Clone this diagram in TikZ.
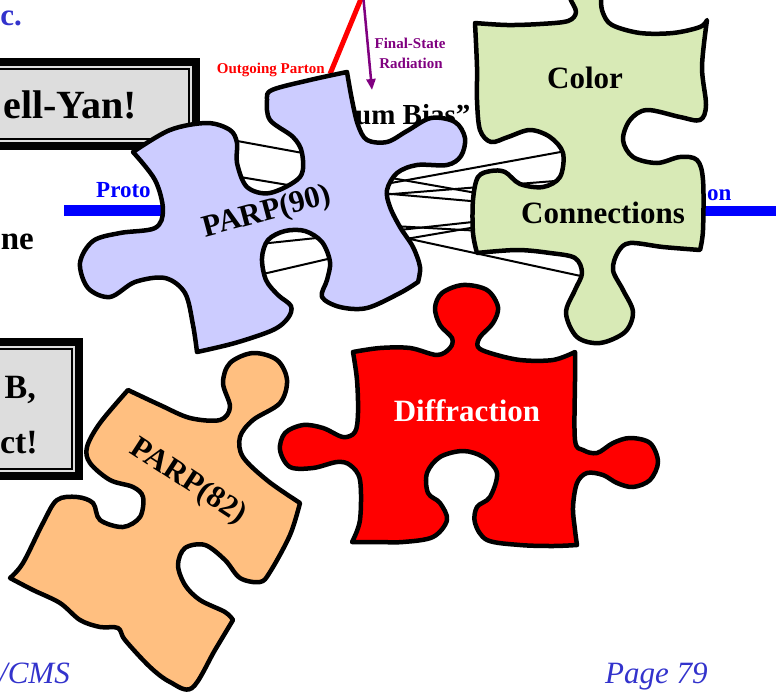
\documentclass[tikz,border=0pt]{standalone}
\usepackage{fontspec}
\setmainfont{Liberation Serif}
\usetikzlibrary{arrows.meta}
\definecolor{slideblue}{RGB}{51,51,204}
\definecolor{beamblue}{RGB}{0,0,255}
\definecolor{fsrpurple}{RGB}{128,0,128}
\definecolor{boxgray}{RGB}{221,221,221}
\definecolor{pcpurple}{RGB}{204,204,255}
\definecolor{pcgreen}{RGB}{216,234,182}
\definecolor{pcred}{RGB}{255,0,0}
\definecolor{pcorange}{RGB}{255,191,128}
\newcommand{\fs}[1]{\fontsize{#1}{1.2\dimexpr#1pt\relax}\selectfont}
\tikzset{
  piece/.style={draw=black, line width=4.5pt, line join=round},
  pclabel/.style={font=\bfseries\fs{31}, inner sep=0pt},
  slidetext/.style={font=\bfseries\fs{33}, inner sep=0pt},
  string/.style={draw=black, line width=2pt},
  smallbold/.style={font=\bfseries\fs{15}, inner sep=0pt, align=center},
  footer/.style={font=\itshape\fs{31}, text=slideblue, inner sep=0pt},
}
\begin{document}
\begin{tikzpicture}[x=1pt,y=-1pt]
\useasboundingbox (0,0) rectangle (776,691);

% ---------- slide background: title fragment, boxes, beams ----------
\node[font=\bfseries\fs{31}, text=slideblue, anchor=base east, inner sep=0pt] (title) at (22,25) {c.};

% framed statement boxes
\fill[black] (-10,58) rectangle (200,150);
\fill[boxgray] (-10,66) rectangle (192,142);
\draw[line width=1.3pt, fill=boxgray] (-10,69) rectangle (189,139);
\node[slidetext, font=\bfseries\fs{40}, anchor=base east] (dy) at (137,118) {ell-Yan!};

\node[slidetext, font=\bfseries\fs{33}, anchor=base east] (ne) at (34,249) {ne};

\fill[black] (-10,338) rectangle (83,480);
\fill[boxgray] (-10,346) rectangle (75,472);
\draw[line width=1.3pt, fill=boxgray] (-10,349) rectangle (72,469);
\node[slidetext, font=\bfseries\fs{34}, anchor=base east] (b1) at (36,398) {B,};
\node[slidetext, font=\bfseries\fs{34}, anchor=base east] (b2) at (38,453) {ct!};

% beam lines
\coordinate (beamL1) at (64,210);
\coordinate (beamL2) at (175,210);
\coordinate (beamR1) at (690,211);
\coordinate (beamR2) at (780,211);
\draw[beamblue, line width=11pt] (beamL1) -- (beamL2);
\draw[beamblue, line width=10pt] (beamR1) -- (beamR2);
\node[font=\bfseries\fs{23}, text=beamblue, anchor=base west, inner sep=0pt] (proto) at (96,197) {Proto};
\node[font=\bfseries\fs{23}, text=beamblue, anchor=base west, inner sep=0pt] (on) at (707,200) {on};

% outgoing parton and final-state radiation
\coordinate (vtx) at (363,-6);
\coordinate (partonEnd) at (330,74);
\coordinate (fsrEnd) at (372,90);
\draw[pcred, line width=5pt] (vtx) -- (partonEnd);
\draw[fsrpurple, line width=2.5pt, -{Triangle[length=11pt,width=9pt]}] (vtx) -- (fsrEnd);
\node[smallbold, text=pcred, anchor=base east] (outp) at (325,73) {Outgoing Parton};
\node[smallbold, text=fsrpurple, anchor=base] (fsr1) at (410,48) {Final-State};
\node[smallbold, text=fsrpurple, anchor=base] (fsr2) at (411,68) {Radiation};

\node[slidetext, font=\bfseries\fs{29}, anchor=base west] (mb) at (355,124) {um Bias''};

% ---------- colour strings between the pieces ----------
\coordinate (s1a) at (210,136); \coordinate (s1b) at (330,158);
\coordinate (s2a) at (210,172); \coordinate (s2b) at (330,192);
\coordinate (s3a) at (250,245); \coordinate (s3b) at (345,235);
\coordinate (s4a) at (250,277); \coordinate (s4b) at (345,255);
\coordinate (s5a) at (380,185); \coordinate (s5b) at (566,151);
\coordinate (s6a) at (380,176); \coordinate (s6b) at (482,194);
\coordinate (s7a) at (380,195); \coordinate (s7b) at (555,181);
\coordinate (s8a) at (380,193); \coordinate (s8b) at (482,202);
\coordinate (s9a) at (390,231); \coordinate (s9b) at (482,221);
\coordinate (s10a) at (393,226); \coordinate (s10b) at (482,231);
\coordinate (s11a) at (400,240); \coordinate (s11b) at (482,226);
\coordinate (s12a) at (410,239); \coordinate (s12b) at (590,278);
\foreach \s in {1,...,12} { \draw[string] (s\s a) -- (s\s b); }

% ---------- PARP(90) piece ----------
\draw[piece, fill=pcpurple]
  plot[smooth, tension=0.55] coordinates {(133,152) (170,130) (207,123) (230,130) (237,143) (237,163) (247,187) (270,193) (300,177) (302,153) (293,137) (270,120) (267,100) (272,90) (310,80) (347,72)}
  -- plot[smooth, tension=0.55] coordinates {(347,72) (352,100) (358,125) (367,140) (387,142) (407,131) (431,118) (455,122) (465,138) (461,156) (447,165) (417,165) (397,173) (387,190) (390,207) (400,227) (413,247) (420,267) (418,282)}
  -- plot[smooth, tension=0.55] coordinates {(418,282) (400,293) (367,308) (340,307) (322,297) (327,280) (330,262) (322,242) (305,231) (285,231) (268,240) (262,258) (266,280) (278,295) (291,306) (288,318) (273,330) (235,343) (197,352)}
  -- plot[smooth, tension=0.55] coordinates {(197,352) (193,325) (185,293) (165,278) (135,282) (110,297) (88,288) (80,263) (93,241) (120,233) (155,228) (163,210) (155,180) (133,152)}
  -- cycle;
\node[pclabel, rotate=15] (parp90) at (267,213) {PARP(90)};

% ---------- Color Connections piece ----------
\draw[piece, fill=pcgreen]
  plot[smooth, tension=0.55] coordinates {(475,23) (507,25) (540,24) (568,21) (576,12) (570,-2) (568,-15) (585,-30) (603,-15) (601,0) (603,13) (612,25) (640,33) (673,33) (700,27) (707,20)}
  -- plot[smooth, tension=0.55] coordinates {(707,20) (702,67) (706,105) (700,120) (680,117) (647,110) (630,120) (623,140) (633,157) (657,163) (680,157) (697,160) (703,180) (703,230) (700,250)}
  -- plot[smooth, tension=0.55] coordinates {(700,250) (663,247) (630,243) (618,252) (613,270) (623,290) (633,312) (625,332) (600,343) (577,337) (566,313) (575,290) (582,273) (575,258) (550,253) (517,250) (477,253)}
  -- plot[smooth, tension=0.55] coordinates {(477,253) (473,233) (473,200) (478,177) (491,171) (505,172) (520,184) (543,187) (560,177) (563,153) (550,137) (530,130) (508,137) (491,142) (480,130) (477,100) (477,67) (475,23)}
  -- cycle;
\node[pclabel, anchor=base] (color) at (585,88) {Color};
\node[pclabel, anchor=base] (conn) at (603,223) {Connections};

% ---------- Diffraction piece ----------
\draw[piece, fill=pcred]
  plot[smooth, tension=0.55] coordinates {(353,352) (380,348) (410,348) (437,355) (450,348) (452,338) (440,325) (435,308) (442,293) (463,285) (487,290) (498,307) (493,323) (480,337) (478,347) (490,353) (520,360) (553,360) (575,352)}
  -- plot[smooth, tension=0.55] coordinates {(575,352) (575,380) (575,440) (583,450) (597,453) (613,443) (630,438) (650,443) (658,462) (650,480) (633,487) (617,483) (603,475) (587,473) (577,483) (573,507) (575,530) (577,545)}
  -- plot[smooth, tension=0.55] coordinates {(577,545) (553,546) (520,545) (487,540) (475,523) (477,507) (490,497) (497,473) (483,457) (463,451) (440,457) (427,473) (428,493) (440,503) (447,520) (433,537) (403,542) (377,542) (352,542)}
  -- plot[smooth, tension=0.55] coordinates {(352,542) (360,520) (360,480) (350,465) (337,462) (313,468) (290,467) (280,450) (285,433) (303,425) (323,428) (343,437) (355,432) (358,413) (357,380) (353,352)}
  -- cycle;
\node[pclabel, text=white, anchor=base] (diff) at (467,421) {Diffraction};

% ---------- PARP(82) piece ----------
\draw[piece, fill=pcorange]
  plot[smooth, tension=0.55] coordinates {(128,390) (160,405) (190,418) (220,420) (230,407) (223,383) (230,363) (253,353) (277,360) (287,380) (280,403) (253,420) (240,437) (243,457) (268,481) (300,503)}
  -- plot[smooth, tension=0.55] coordinates {(300,503) (290,535) (270,572) (260,582) (240,578) (225,560) (205,545) (185,548) (178,565) (185,585) (200,600) (225,612) (233,620)}
  -- plot[smooth, tension=0.55] coordinates {(233,620) (215,650) (192,688) (170,682) (150,667) (125,640) (118,628) (100,627) (80,620) (60,603) (33,590) (10,578)}
  -- plot[smooth, tension=0.55] coordinates {(10,578) (23,563) (43,523) (57,500) (77,497) (93,503) (100,520) (123,527) (140,517) (143,497) (133,487) (110,480) (90,463) (87,447) (100,423) (128,390)}
  -- cycle;
\node[pclabel, rotate=-33] (parp82) at (188,482) {PARP(82)};

% ---------- footer ----------
\node[footer, anchor=base east] (cms) at (70,683) {/CMS};
\node[footer, anchor=base west] (page) at (605,683) {Page 79};
\end{tikzpicture}
\end{document}
